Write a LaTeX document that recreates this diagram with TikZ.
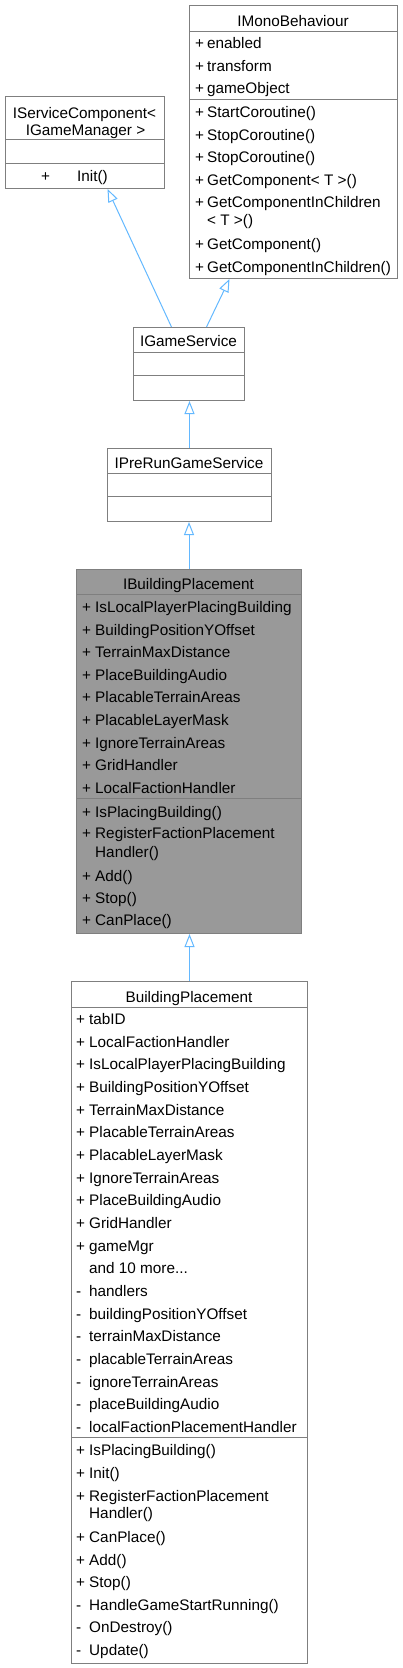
\documentclass[tikz,border=0pt]{standalone}
\usepackage{fontspec}
\setmainfont{Liberation Sans}
\usetikzlibrary{arrows.meta}
\definecolor{bordercol}{HTML}{7F7F7F}
\definecolor{arrowcol}{HTML}{63B8FF}
\definecolor{hlfill}{HTML}{999999}
\newcommand\mythreedots{...}
\begin{document}
\begin{tikzpicture}[x=1pt,y=-1pt,
  box/.style={draw=bordercol, line width=1pt, inner sep=0pt, anchor=north west, fill=white},
  hlbox/.style={box, fill=hlfill},
  txt/.style={anchor=base west, inner sep=0pt, font=\fontsize{15.3}{18}\selectfont},
  ttl/.style={anchor=base, inner sep=0pt, font=\fontsize{15.3}{18}\selectfont},
  divider/.style={draw=bordercol, line width=1pt},
  inh/.style={draw=arrowcol, line width=1pt, -{Triangle[open,length=13pt,width=10pt]}}]
\useasboundingbox (0,0) rectangle (402,1668);

% ---------- boxes ----------
\node[box, minimum width=159pt, minimum height=92pt] (isc) at (5,96) {};
\node[box, minimum width=208pt, minimum height=273pt] (imb) at (189,5) {};
\node[box, minimum width=111pt, minimum height=73pt] (igs) at (133,327) {};
\node[box, minimum width=164pt, minimum height=73pt] (iprgs) at (107,448) {};
\node[hlbox, minimum width=225pt, minimum height=364pt] (ibp) at (76,569) {};
\node[box, minimum width=236pt, minimum height=682pt] (bp) at (71,981) {};

% ---------- dividers ----------
\draw[divider] (isc.west |- 0,139) -- (isc.east |- 0,139);
\draw[divider] (isc.west |- 0,163) -- (isc.east |- 0,163);
\draw[divider] (imb.west |- 0,31) -- (imb.east |- 0,31);
\draw[divider] (imb.west |- 0,99) -- (imb.east |- 0,99);
\draw[divider] (igs.west |- 0,352) -- (igs.east |- 0,352);
\draw[divider] (igs.west |- 0,375) -- (igs.east |- 0,375);
\draw[divider] (iprgs.west |- 0,473) -- (iprgs.east |- 0,473);
\draw[divider] (iprgs.west |- 0,496) -- (iprgs.east |- 0,496);
\draw[divider] (ibp.west |- 0,594) -- (ibp.east |- 0,594);
\draw[divider] (ibp.west |- 0,798) -- (ibp.east |- 0,798);
\draw[divider] (bp.west |- 0,1007) -- (bp.east |- 0,1007);
\draw[divider] (bp.west |- 0,1437) -- (bp.east |- 0,1437);

% ---------- IServiceComponent ----------
\node[ttl] (isct1) at (84.5,118.5) {IServiceComponent<};
\node[ttl] (isct2) at (85.5,135.5) {IGameManager >};
\node[txt] (iscp1) at (41,181.5) {+};
\node[txt] (iscn1) at (77,181.5) {Init()};

% ---------- IMonoBehaviour ----------
\node[ttl] (imbt) at (293,26.5) {IMonoBehaviour};
\foreach \p/\n/\y [count=\i] in {+/enabled/43, +/transform/65.5, +/gameObject/88,
   +/StartCoroutine()/112, +/StopCoroutine()/134.5, +/StopCoroutine()/157,
   +/GetComponent< T >()/179.5, +/GetComponentInChildren/202, {}/< T >()/220,
   +/GetComponent()/243.5, +/GetComponentInChildren()/266.5}
{
  \node[txt] (imbp\i) at (195,\y+5.5) {\p};
  \node[txt] (imbn\i) at (207,\y+5.5) {\n};
}

% ---------- IGameService / IPreRunGameService ----------
\node[ttl] (igst) at (188.5,346.5) {IGameService};
\node[ttl] (iprgst) at (189,468.5) {IPreRunGameService};

% ---------- IBuildingPlacement ----------
\node[ttl] (ibpt) at (188.5,589.5) {IBuildingPlacement};
\foreach \p/\n/\y [count=\i] in {+/IsLocalPlayerPlacingBuilding/607, +/BuildingPositionYOffset/629.6,
   +/TerrainMaxDistance/652.2, +/PlaceBuildingAudio/674.8, +/PlacableTerrainAreas/697.4,
   +/PlacableLayerMask/720, +/IgnoreTerrainAreas/742.6, +/GridHandler/765.2,
   +/LocalFactionHandler/787.8,
   +/IsPlacingBuilding()/812, +/RegisterFactionPlacement/833, {}/Handler()/852,
   +/Add()/876, +/Stop()/898, +/CanPlace()/920}
{
  \node[txt] (ibpp\i) at (82,\y+5.5) {\p};
  \node[txt] (ibpn\i) at (95,\y+5.5) {\n};
}

% ---------- BuildingPlacement ----------
\node[ttl] (bpt) at (189,1002.5) {BuildingPlacement};
\foreach \p/\n/\y [count=\i] in {+/tabID/1019, +/LocalFactionHandler/1041.7,
   +/IsLocalPlayerPlacingBuilding/1064.3, +/BuildingPositionYOffset/1087,
   +/TerrainMaxDistance/1109.7, +/PlacableTerrainAreas/1132.3, +/PlacableLayerMask/1155,
   +/IgnoreTerrainAreas/1177.7, +/PlaceBuildingAudio/1200.3, +/GridHandler/1223,
   +/gameMgr/1245.7, {}/and 10 more\mythreedots/1268.3, -/handlers/1291,
   -/buildingPositionYOffset/1313.7, -/terrainMaxDistance/1336.3,
   -/placableTerrainAreas/1359, -/ignoreTerrainAreas/1381.7,
   -/placeBuildingAudio/1404.3, -/localFactionPlacementHandler/1427,
   +/IsPlacingBuilding()/1450, +/Init()/1472.5, +/RegisterFactionPlacement/1496,
   {}/Handler()/1513, +/CanPlace()/1537, +/Add()/1559.5, +/Stop()/1582,
   -/HandleGameStartRunning()/1604.5, -/OnDestroy()/1627, -/Update()/1649.5}
{
  \node[txt] (bpp\i) at (76,\y+5.5) {\p};
  \node[txt] (bpn\i) at (89,\y+5.5) {\n};
}

% ---------- inheritance connectors ----------
\draw[inh] ([xshift=-17.5pt]igs.north) -- ([xshift=22.5pt]isc.south);
\draw[inh] ([xshift=17.5pt]igs.north) -- ([xshift=-64pt]imb.south);
\draw[inh] (iprgs.north) -- (iprgs.north |- igs.south);
\draw[inh] (ibp.north) -- (ibp.north |- iprgs.south);
\draw[inh] (bp.north) -- (bp.north |- ibp.south);
\end{tikzpicture}
\end{document}
